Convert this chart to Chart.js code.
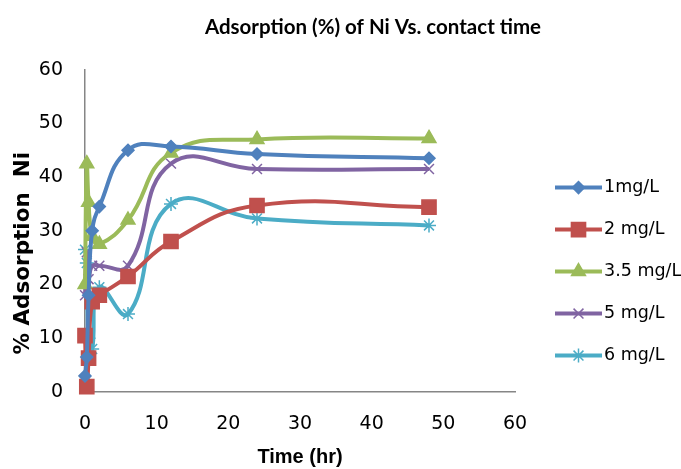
<!DOCTYPE html>
<html><head><meta charset="utf-8">
<script src="https://cdn.jsdelivr.net/npm/chart.js@4.4.1/dist/chart.umd.min.js"></script>
<style>html,body{margin:0;padding:0;background:#fff;}#wrap{width:681px;height:469px;position:relative;}</style>
</head><body><div id="wrap"><canvas id="c" width="681" height="469"></canvas></div>
<script>
// Contact time (hr)
const times = [0, 0.25, 0.5, 1, 2, 6, 12, 24, 48];
// % Adsorption of Ni for each initial concentration
const ads1mg  = [3, 6.5, 18, 30, 34.5, 45, 45.7, 44.3, 43.5];
const ads2mg  = [10.5, 1, 6.3, 16.8, 18, 21.5, 28, 34.7, 34.4];
const ads35mg = [20, 42.5, 35.3, 29, 27.5, 32, 44.5, 47, 47.2];
const ads5mg  = [18, 26, 21, 23.5, 23.5, 23.5, 42.5, 41.5, 41.5];
const ads6mg  = [26.5, 24, 10, 8, 19.5, 14.5, 35, 32.3, 31];
const seriesLabels = ['1mg/L', '2 mg/L', '3.5 mg/L', '5 mg/L', '6 mg/L'];
const xTicks = [0, 10, 20, 30, 40, 50, 60];
const yTicks = [0, 10, 20, 30, 40, 50, 60];

const seriesValues = [ads1mg, ads2mg, ads35mg, ads5mg, ads6mg];
const colors = ['#4F81BD', '#C0504D', '#9BBB59', '#8064A2', '#4BACC6'];
const styles = ['rectRot', 'rect', 'triangle', 'crossRot', 'star'];
const radii = [6, 10, 8, 7, 7];

const datasets = seriesLabels.map((lab, i) => ({
  label: lab,
  data: times.map((t, j) => ({x: t, y: seriesValues[i][j]})),
  showLine: true,
  borderColor: colors[i],
  backgroundColor: colors[i],
  borderWidth: 4,
  pointStyle: styles[i],
  pointRadius: radii[i],
  pointBorderWidth: 1.5,
  pointBackgroundColor: colors[i],
  pointBorderColor: colors[i],
  tension: 0.45,
  clip: false
}));

const sideLegend = {
  id: 'sideLegend',
  afterLayout(chart) {
    if (chart.titleBlock) { chart.titleBlock.left = 65; chart.titleBlock.right = 681; }
  },
  afterDraw(chart) {
    const ctx = chart.ctx, a = chart.chartArea;
    const x0 = a.right + 40, y0 = a.top + 118, step = 42, len = 47;
    chart.data.datasets.forEach((ds, i) => {
      const y = y0 + i * step;
      ctx.save();
      ctx.strokeStyle = ds.borderColor; ctx.lineWidth = ds.borderWidth;
      ctx.beginPath(); ctx.moveTo(x0, y); ctx.lineTo(x0 + len, y); ctx.stroke();
      ctx.fillStyle = ds.backgroundColor; ctx.lineWidth = 1.5;
      Chart.helpers.drawPoint(ctx, {pointStyle: ds.pointStyle, radius: ds.pointRadius, rotation: 0, borderWidth: 1.5}, x0 + len / 2, y);
      ctx.fillStyle = '#000'; ctx.font = '17.5px "DejaVu Sans"';
      ctx.textBaseline = 'middle'; ctx.textAlign = 'left';
      ctx.fillText(ds.label, x0 + len + 2, y);
      ctx.restore();
    });
  }
};

new Chart(document.getElementById('c'), {
  type: 'scatter',
  data: {datasets},
  plugins: [sideLegend],
  options: {
    responsive: false, animation: false, devicePixelRatio: 1,
    layout: {padding: {left: 0, right: 166, top: 0, bottom: 0}},
    plugins: {
      legend: {display: false}, tooltip: {enabled: false},
      title: {display: true, text: 'Adsorption (%) of Ni Vs. contact time', color: '#000',
        font: {family: 'Lato', size: 20.5, weight: 'bold'}, padding: {top: 15, bottom: 30}}
    },
    scales: {
      x: {type: 'linear', min: 0, max: 60,
        afterBuildTicks: s => { s.ticks = xTicks.map(v => ({value: v})); },
        afterFit: s => { s.height = 77; },
        ticks: {color: '#000', font: {family: '"DejaVu Sans"', size: 19}, padding: 21},
        grid: {display: false, drawTicks: false}, border: {display: true, color: '#868686', width: 1.5},
        title: {display: true, text: 'Time (hr)', color: '#000', font: {family: '"Liberation Sans"', size: 20, weight: 'bold'}, padding: {top: 9, bottom: 0}}},
      y: {type: 'linear', min: 0, max: 60,
        afterBuildTicks: s => { s.ticks = yTicks.map(v => ({value: v})); },
        afterFit: s => { s.width = 85; },
        ticks: {color: '#000', font: {family: '"DejaVu Sans"', size: 19}, padding: 22},
        grid: {display: false, drawTicks: false}, border: {display: true, color: '#868686', width: 1.5},
        title: {display: true, text: '% Adsorption  Ni      ', color: '#000', font: {family: '"DejaVu Sans"', size: 21.5, weight: 'bold'}, padding: {top: 11, bottom: 3}}}
    }
  }
});
</script></body></html>
